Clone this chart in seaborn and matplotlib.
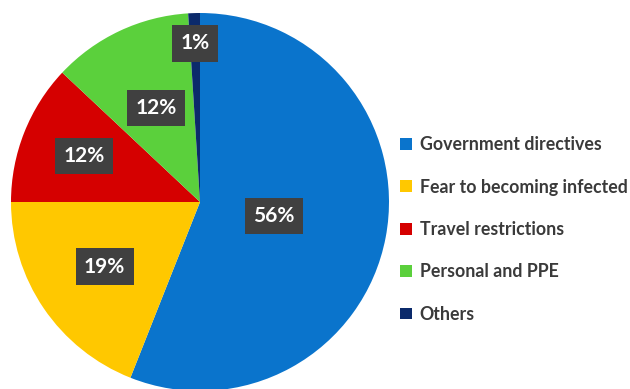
import matplotlib
matplotlib.use("Agg")
import matplotlib.pyplot as plt
from matplotlib.patches import Patch
import numpy as np
import pandas as pd
import seaborn as sns

# Reasons, in clockwise order starting at 12 o'clock
categories = ["Government directives", "Fear to becoming infected",
              "Travel restrictions", "Personal and PPE", "Others"]
shares = [56, 19, 12, 12, 1]
slice_colors = ["#0A74CC", "#FFC800", "#D50000", "#5BD03C", "#0B2A6B"]
# radial placement of each percentage label (fraction of radius)
label_radius = [0.40, 0.61, 0.66, 0.55, 0.84]

df = pd.DataFrame({"reason": categories, "share": shares})

sns.set_theme(style="white")
plt.rcParams["font.family"] = ["Lato", "DejaVu Sans"]

W, H = 630, 389
fig = plt.figure(figsize=(W / 100, H / 100), dpi=100)
fig.patch.set_facecolor("white")

cx, cy, r = 200, 202, 189
ax = fig.add_axes([(cx - r) / W, (H - cy - r) / H, 2 * r / W, 2 * r / H])
palette = sns.color_palette(slice_colors)

wedges, _ = ax.pie(df["share"], colors=palette, startangle=90,
                   counterclock=False, radius=1.0,
                   wedgeprops=dict(linewidth=0))
ax.set_xlim(-1, 1)
ax.set_ylim(-1, 1)
ax.set_aspect("equal")
ax.set_axis_off()

for w, val, rf in zip(wedges, df["share"], label_radius):
    mid = np.deg2rad((w.theta1 + w.theta2) / 2)
    x, y = rf * np.cos(mid), rf * np.sin(mid)
    ax.text(x, y, f"{val}%", ha="center", va="center", color="white",
            fontsize=15, fontweight="bold",
            bbox=dict(boxstyle="square,pad=0.4", fc="#404040", ec="none"))

handles = [Patch(facecolor=c, edgecolor="none") for c in palette]
fig.legend(handles, df["reason"], loc="upper left",
           bbox_to_anchor=(393 / W, 1 - 129 / H), frameon=False,
           handlelength=0.65, handleheight=0.65, handletextpad=0.45,
           labelspacing=1.43, borderaxespad=0,
           prop=dict(size=12.8, weight="bold"), labelcolor="#3A3A3A")

fig.savefig("out.png", dpi=100, facecolor="white")
